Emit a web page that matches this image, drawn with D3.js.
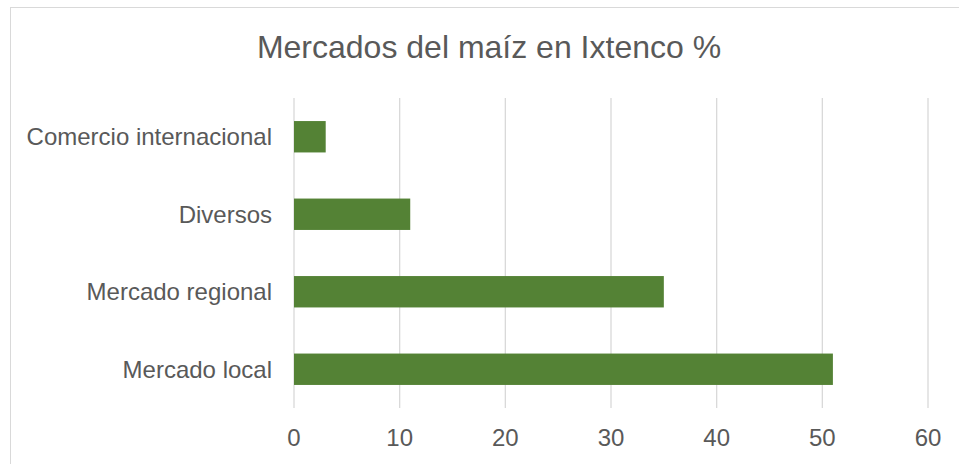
<!DOCTYPE html>
<html>
<head>
<meta charset="utf-8">
<script src="https://cdn.jsdelivr.net/npm/d3@7"></script>
<style>
  body { margin: 0; background: #fff; }
  text { font-family: "Liberation Sans", Arial, sans-serif; fill: #595959; }
</style>
</head>
<body>
<div id="chart"></div>
<script>
// Chart data
const categories = ['Comercio internacional', 'Diversos', 'Mercado regional', 'Mercado local'];
const values = [3, 11, 35, 51];
const ticks = [0, 10, 20, 30, 40, 50, 60];

const width = 959, height = 464;
const svg = d3.select('#chart').append('svg')
    .attr('width', width)
    .attr('height', height);

// Chart border
svg.append('rect')
    .attr('x', 10.5).attr('y', 7.5)
    .attr('width', 970).attr('height', 480)
    .attr('fill', 'none')
    .attr('stroke', '#d9d9d9')
    .attr('stroke-width', 1);

// Title
svg.append('text')
    .attr('x', 489)
    .attr('y', 58)
    .attr('text-anchor', 'middle')
    .style('font-size', '32px')
    .text('Mercados del maíz en Ixtenco %');

const x = d3.scaleLinear().domain([0, 60]).range([294, 928]);
const y = d3.scaleBand().domain(categories).range([98, 408]).paddingInner(0.595).paddingOuter(0.2975);

// Gridlines
svg.append('g')
    .selectAll('line')
    .data(ticks)
    .join('line')
    .attr('x1', d => x(d)).attr('x2', d => x(d))
    .attr('y1', 98).attr('y2', 408)
    .attr('stroke', '#d9d9d9')
    .attr('stroke-width', 1.3);

// Bars
svg.append('g')
    .selectAll('rect')
    .data(values)
    .join('rect')
    .attr('x', x(0))
    .attr('y', (d, i) => y(categories[i]))
    .attr('width', d => x(d) - x(0))
    .attr('height', y.bandwidth())
    .attr('fill', '#548235');

// X tick labels
svg.append('g')
    .selectAll('text')
    .data(ticks)
    .join('text')
    .attr('x', d => x(d))
    .attr('y', 446)
    .attr('text-anchor', 'middle')
    .style('font-size', '24px')
    .text(d => d);

// Category labels
svg.append('g')
    .selectAll('text')
    .data(categories)
    .join('text')
    .attr('x', 272)
    .attr('y', d => y(d) + y.bandwidth() / 2)
    .attr('dy', '0.35em')
    .attr('text-anchor', 'end')
    .style('font-size', '24px')
    .text(d => d);
</script>
</body>
</html>
